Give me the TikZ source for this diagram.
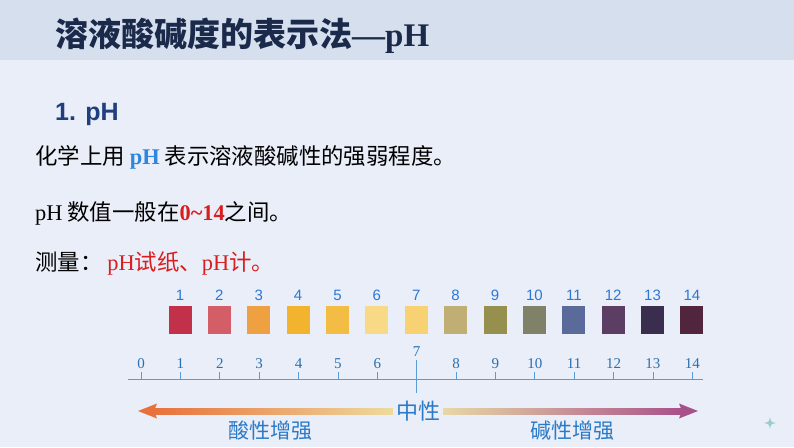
\documentclass[tikz,border=0pt]{standalone}
\usepackage{fontspec}
\newfontfamily\cjk{Noto Sans CJK SC}
\newfontfamily\serif{Liberation Serif}
\newfontfamily\sans{Liberation Sans}
\definecolor{bg}{HTML}{E9EEF8}
\definecolor{band}{HTML}{D6DFEE}
\definecolor{navy}{HTML}{1B2A4A}
\definecolor{headblue}{HTML}{1F3F7F}
\definecolor{phblue}{HTML}{2E86DE}
\definecolor{red1}{HTML}{D81E1E}
\definecolor{numblue}{HTML}{2A78D8}
\definecolor{axisblue}{HTML}{5B9BD5}
\definecolor{lblblue}{HTML}{2A6FB0}
\definecolor{midblue}{HTML}{2A7AC8}
\definecolor{c1}{HTML}{C2304A}
\definecolor{c2}{HTML}{D35E68}
\definecolor{c3}{HTML}{EFA040}
\definecolor{c4}{HTML}{F2B42E}
\definecolor{c5}{HTML}{F3BC45}
\definecolor{c6}{HTML}{F8DA86}
\definecolor{c7}{HTML}{F8D272}
\definecolor{c8}{HTML}{BFAF74}
\definecolor{c9}{HTML}{96904E}
\definecolor{c10}{HTML}{808268}
\definecolor{c11}{HTML}{5A6A9B}
\definecolor{c12}{HTML}{5C3D64}
\definecolor{c13}{HTML}{3A2D4D}
\definecolor{c14}{HTML}{51253E}
\definecolor{arrL}{HTML}{E8703A}
\definecolor{arrM}{HTML}{EEE6A8}
\definecolor{arrR}{HTML}{A8508A}
\tikzset{
  swatch/.style={minimum width=23pt,minimum height=28pt,inner sep=0pt,draw=none},
  swnum/.style={text=numblue,font=\sans\fontsize{15}{15}\selectfont,inner sep=0pt},
  axnum/.style={text=lblblue,font=\serif\fontsize{15}{15}\selectfont,inner sep=0pt},
  body/.style={font=\cjk\fontsize{22.4}{22.4}\selectfont,anchor=west,inner sep=0pt},
}
\begin{document}
\begin{tikzpicture}[x=1pt,y=-1pt]
\useasboundingbox (0,0) rectangle (794,447);
\fill[bg] (0,0) rectangle (794,447);
\fill[band] (0,0) rectangle (794,60);
\node[anchor=west,inner sep=0pt,text=navy,font=\cjk\bfseries\fontsize{33}{33}\selectfont] (title) at (55,36) {溶液酸碱度的表示法{\serif\bfseries —pH}};
\node[anchor=west,inner sep=0pt,text=headblue,font=\sans\bfseries\fontsize{25}{25}\selectfont] (head) at (55,114) {1. pH};
\node[body] (l1) at (35,157) {化学上用 {\serif\bfseries\color{phblue}pH} 表示溶液酸碱性的强弱程度。};
\node[body] (l2) at (35,213) {{\serif pH} 数值一般在{\serif\bfseries\color{red1}0\textasciitilde14}之间。};
\node[body] (l3) at (35,263) {测量： {\color{red1}{\serif pH}试纸、{\serif pH}计。}};
% swatches
\foreach \i in {1,...,14} {
  \pgfmathsetmacro{\xx}{180+39.38*(\i-1)}
  \node[swnum] (n\i) at (\xx,295) {\i};
  \node[swatch,fill=c\i] (s\i) at (\xx,320) {};
}
% axis
\coordinate (axL) at (128,379);
\coordinate (axR) at (703,379);
\draw[axisblue,line width=0.8pt] (axL) -- (axR);
\foreach \i in {0,...,14} {
  \pgfmathsetmacro{\xx}{141+39.38*\i}
  \coordinate (t\i) at (\xx,379);
  \ifnum\i=7
    \draw[axisblue,line width=0.8pt] (\xx,360) -- (\xx,393);
    \node[axnum] (a\i) at (\xx,352) {\i};
  \else
    \draw[axisblue,line width=0.8pt] (t\i) -- ++(0,-7);
    \node[axnum] (a\i) at (\xx,364) {\i};
  \fi
}
% gradient arrow
\shade[left color=arrL,right color=arrM] (152,408) rectangle (418,414);
\shade[left color=arrM,right color=arrR] (418,408) rectangle (684,414);
\fill[arrL] (138,411) -- (157,403.5) -- (154,411) -- (157,418.5) -- cycle;
\fill[arrR] (698,411) -- (679,403.5) -- (682,411) -- (679,418.5) -- cycle;
\node[fill=bg,inner xsep=3pt,inner ysep=1pt,text=midblue,font=\cjk\fontsize{22}{22}\selectfont] (mid) at (418,411) {中性};
\node[text=midblue,font=\cjk\fontsize{21}{21}\selectfont,inner sep=0pt] (acid) at (270,431) {酸性增强};
\node[text=midblue,font=\cjk\fontsize{21}{21}\selectfont,inner sep=0pt] (base) at (572,431) {碱性增强};
% sparkle
\fill[teal!40] (770,417) .. controls (771,422) .. (776,423) .. controls (771,424) .. (770,429) .. controls (769,424) .. (764,423) .. controls (769,422) .. (770,417);
\end{tikzpicture}
\end{document}
